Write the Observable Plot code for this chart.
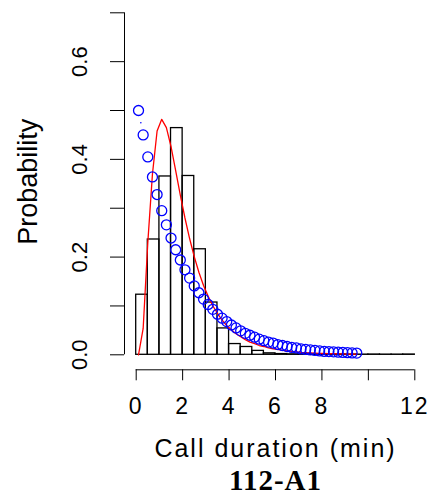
<!DOCTYPE html>
<html><head><meta charset="utf-8">
<script src="https://cdn.jsdelivr.net/npm/d3@7"></script>
<script src="https://cdn.jsdelivr.net/npm/@observablehq/plot@0.6"></script>
<style>body{margin:0;background:#fff;} svg{display:block}</style>
</head><body><div id="chart"></div>
<script>
// Histogram (bin width 0.5 min), density values
const binStarts = [0,0.5,1,1.5,2,2.5,3,3.5,4,4.5,5,5.5,6,6.5,7,7.5,8,8.5,9,9.5,10,10.5,11,11.5];
const binDensity = [0.123,0.236,0.365,0.464,0.366,0.216,0.107,0.054,0.022,0.016,0.008,0.003,0.0015,0.001,0.0012,0.0008,0.0006,0.0008,0.0006,0.0004,0.0006,0.0004,0.0004,0.0006];
const binWidth = 0.5;

// Sample points for fitted curves
const sampleX = [0.1,0.3,0.5,0.7,0.9,1.1,1.3,1.5,1.7,1.9,2.1,2.3,2.5,2.7,2.9,3.1,3.3,3.5,3.7,3.9,4.1,4.3,4.5,4.7,4.9,5.1,5.3,5.5,5.7,5.9,6.1,6.3,6.5,6.7,6.9,7.1,7.3,7.5,7.7,7.9,8.1,8.3,8.5,8.7,8.9,9.1,9.3,9.5];
// Blue circles (exponential fit)
const expFit = [0.500,0.450,0.405,0.364,0.328,0.295,0.266,0.239,0.215,0.194,0.174,0.157,0.141,0.127,0.114,0.103,0.093,0.083,0.075,0.068,0.061,0.055,0.049,0.044,0.040,0.036,0.032,0.029,0.026,0.024,0.021,0.019,0.017,0.015,0.014,0.012,0.011,0.010,0.009,0.008,0.007,0.0066,0.006,0.0054,0.0048,0.0043,0.0039,0.0035];
// Red line (skewed fit)
const redFit = [0.000,0.054,0.230,0.370,0.458,0.482,0.465,0.426,0.377,0.327,0.280,0.238,0.201,0.169,0.142,0.120,0.100,0.085,0.071,0.060,0.051,0.043,0.037,0.031,0.026,0.023,0.019,0.017,0.014,0.012,0.011,0.009,0.008,0.007,0.006,0.005,0.0046,0.004,0.0035,0.0031,0.0027,0.0024,0.0021,0.0019,0.0017,0.0015,0.0013,0.0012];
// small stray blue dot
const strayX = [0.2];
const strayY = [0.475];

const xTicks = [0,2,4,6,8,10,12];
const xTickLabels = ["0","2","4","6","8","","12"];
const yTicks = [0,0.1,0.2,0.3,0.4,0.5,0.6,0.7];
const yTickLabels = ["0.0","","0.2","","0.4","","0.6",""];
const xLabel = "Call duration (min)";
const yLabel = "Probability";
const title = "112-A1";

const bins = binStarts.map((s,i)=>({x1:s, x2:s+binWidth, d:binDensity[i]}));
const expPts = sampleX.map((x,i)=>({x, y:expFit[i]}));
const redPts = sampleX.map((x,i)=>({x, y:redFit[i]}));
const stray = strayX.map((x,i)=>({x, y:strayY[i]}));

const chart = Plot.plot({
  width:435, height:496,
  marginLeft:135.7, marginRight:20.7, marginTop:12.3, marginBottom:141.7,
  style:{background:"#fff", color:"#000", fontFamily:"'Liberation Sans', Arial, sans-serif"},
  x:{domain:[0,12]},
  y:{domain:[0,0.7]},
  marks:[
    Plot.rectY(bins,{x1:"x1",x2:"x2",y:"d",fill:"none",stroke:"#000",strokeWidth:1.3}),
    Plot.line(redPts,{x:"x",y:"y",stroke:"#ff0000",strokeWidth:1.3}),
    Plot.dot(expPts,{x:"x",y:"y",r:5,stroke:"#0000ff",strokeWidth:1.3,fill:"none"}),
    Plot.dot(stray,{x:"x",y:"y",r:0.8,fill:"#0000ff"}),
    Plot.ruleX([0],{y1:0,y2:0.7,dx:-11.7,stroke:"#000"}),
    Plot.axisY({ticks:yTicks, tickFormat:d=>yTickLabels[Math.round(d*10)], tickSize:14, tickPadding:24, dx:-11.7, tickRotate:-90, fontSize:22, label:null}),
    Plot.ruleY([0],{x1:0,x2:12,dy:15,stroke:"#000"}),
    Plot.axisX({ticks:xTicks, tickFormat:d=>xTickLabels[Math.round(d/2)], tickSize:11, tickPadding:16.4, dy:15, fontSize:23, label:null}),
    Plot.text([yLabel],{text:d=>d, frameAnchor:"left", textAnchor:"middle", rotate:-90, dx:-99.7, dy:-2, lineAnchor:"bottom", fontSize:27}),
    Plot.text([xLabel],{text:d=>d, frameAnchor:"bottom", textAnchor:"middle", dy:102.2, lineAnchor:"bottom", fontSize:25}),
    Plot.text([title],{text:d=>d, frameAnchor:"bottom", textAnchor:"middle", dy:134.7, lineAnchor:"bottom", fontSize:29, fontWeight:"bold", fontFamily:"'Liberation Serif', 'Times New Roman', serif"})
  ]
});
document.getElementById("chart").appendChild(chart);
chart.querySelectorAll("text").forEach(t=>{
  const s = t.textContent;
  if (s === xLabel) t.style.letterSpacing = "2px";
  if (s === title) t.style.letterSpacing = "1px";
});
chart.querySelectorAll('g[aria-label="x-axis tick label"] text').forEach(t=>{ t.style.letterSpacing = "2px"; });
</script>
</body></html>
